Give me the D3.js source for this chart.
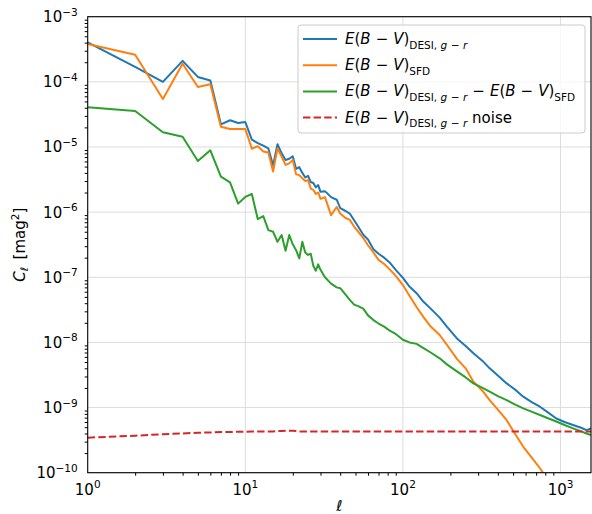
<!DOCTYPE html>
<html><head><meta charset="utf-8">
<script src="https://cdn.jsdelivr.net/npm/d3@7"></script>
<style>body{margin:0;background:#fff}svg{display:block}text{font-family:"DejaVu Sans",sans-serif;fill:#000}</style>
</head><body>
<svg id="c" width="592" height="514"></svg>
<script>
const ell = [1,2,3,4,5,6,7,8,9,10,11,12,13,14,15,16,17,18,19,20,21,22,23,24,25,26,27,28,29,30,
  32,35,38,40,43,46,49,52,56,60,65,70,76,83,90,100,110,122,135,150,171,190,220,250,280,320,355,400,455,520,580,660,740,840,940,1060,1200,1350,1460,1560];
const desi = [4.05e-4,1.7e-4,1.0e-4,2.1e-4,1.19e-4,1.05e-4,2.23e-5,2.57e-5,2.34e-5,2.42e-5,1.3e-5,1.15e-5,1.05e-5,9.5e-6,5.2e-6,1.1e-5,8.0e-6,6.3e-6,6.6e-6,7.2e-6,4.6e-6,4.9e-6,4.0e-6,3.4e-6,3.6e-6,2.9e-6,2.8e-6,2.4e-6,2.6e-6,2.05e-6,
  2.1e-6,1.7e-6,1.55e-6,1.15e-6,1.05e-6,9.5e-7,7.5e-7,6.0e-7,4.5e-7,3.8e-7,2.7e-7,2.3e-7,2.0e-7,1.65e-7,1.3e-7,9.8e-8,7.2e-8,5.7e-8,4.2e-8,3.3e-8,2.4e-8,1.75e-8,1.15e-8,8.8e-9,6.8e-9,5.2e-9,4.0e-9,3.1e-9,2.35e-9,1.85e-9,1.47e-9,1.2e-9,1.03e-9,8.3e-10,6.8e-10,6.0e-10,5.4e-10,4.9e-10,4.5e-10,4.8e-10];
const sfd = [3.81e-4,2.61e-4,5.46e-5,1.9e-4,8.34e-5,9.17e-5,2.05e-5,1.89e-5,1.89e-5,1.89e-5,9.4e-6,1.03e-5,8.5e-6,8.2e-6,4.2e-6,9.5e-6,7.1e-6,5.3e-6,5.6e-6,6.3e-6,3.8e-6,3.7e-6,3.3e-6,3.0e-6,3.1e-6,2.3e-6,2.2e-6,1.9e-6,2.0e-6,1.6e-6,
  1.7e-6,9.0e-7,1.2e-6,9.5e-7,8.2e-7,7.6e-7,6.0e-7,5.0e-7,4.0e-7,3.1e-7,2.4e-7,1.85e-7,1.6e-7,1.3e-7,1.05e-7,7.6e-8,5.2e-8,3.5e-8,2.45e-8,1.75e-8,1.3e-8,9.2e-9,5.6e-9,4.0e-9,2.5e-9,1.8e-9,1.3e-9,9.3e-10,6.4e-10,3.8e-10,2.5e-10,1.67e-10,1.17e-10,7.5e-11,null,null,null,null,null,null];
const diff = [4.06e-5,3.56e-5,1.68e-5,1.44e-5,6.09e-6,8.9e-6,3.5e-6,2.87e-6,1.35e-6,1.71e-6,1.9e-6,7.8e-7,8.7e-7,5.3e-7,5.0e-7,3.5e-7,4.45e-7,2.56e-7,4.45e-7,3.2e-7,2.6e-7,1.95e-7,3.5e-7,2.4e-7,2.2e-7,2.3e-7,1.5e-7,1.26e-7,1.58e-7,1.3e-7,
  1.0e-7,8.0e-8,7.0e-8,6.8e-8,5.5e-8,4.5e-8,3.8e-8,3.6e-8,3.3e-8,2.6e-8,2.2e-8,1.95e-8,1.75e-8,1.5e-8,1.35e-8,1.1e-8,1.0e-8,9.5e-9,8.2e-9,7.0e-9,5.7e-9,4.6e-9,3.6e-9,2.9e-9,2.35e-9,2.0e-9,1.75e-9,1.5e-9,1.3e-9,1.1e-9,9.7e-10,8.6e-10,7.7e-10,6.8e-10,6.1e-10,5.4e-10,4.8e-10,4.3e-10,4.0e-10,3.8e-10];
const noise = [3.45e-10,3.7e-10,3.9e-10,4.0e-10,4.1e-10,4.15e-10,4.2e-10,4.2e-10,4.25e-10,4.25e-10,4.3e-10,4.3e-10,4.3e-10,4.3e-10,4.3e-10,4.35e-10,4.35e-10,4.4e-10,4.4e-10,4.4e-10,4.35e-10,4.3e-10,4.3e-10,4.3e-10,4.3e-10,4.3e-10,4.3e-10,4.3e-10,4.3e-10,4.3e-10,
  4.3e-10,4.3e-10,4.3e-10,4.3e-10,4.3e-10,4.3e-10,4.3e-10,4.3e-10,4.3e-10,4.3e-10,4.3e-10,4.3e-10,4.3e-10,4.3e-10,4.3e-10,4.3e-10,4.3e-10,4.3e-10,4.3e-10,4.3e-10,4.3e-10,4.3e-10,4.3e-10,4.3e-10,4.3e-10,4.3e-10,4.3e-10,4.3e-10,4.3e-10,4.3e-10,4.3e-10,4.3e-10,4.3e-10,4.3e-10,4.3e-10,4.3e-10,4.3e-10,4.3e-10,4.3e-10,4.3e-10];
const xTickExp = [0,1,2,3];
const yTickExp = [-10,-9,-8,-7,-6,-5,-4,-3];

const L=87.7, R=591, T=16.7, B=472.7;
const FS=15, FSS=10.5;
const svg = d3.select("#c");
const x = d3.scaleLog().domain([1,1560]).range([L,R]);
const y = d3.scaleLog().domain([1e-10,1e-3]).range([B,T]);

// grid
const g = svg.append("g");
xTickExp.forEach(e=>{const v=Math.pow(10,e); if(e>0) g.append("line").attr("x1",x(v)).attr("x2",x(v)).attr("y1",T).attr("y2",B).attr("stroke","#dcdcdc").attr("stroke-width",1);});
yTickExp.forEach(e=>{const v=Math.pow(10,e); g.append("line").attr("x1",L).attr("x2",R).attr("y1",y(v)).attr("y2",y(v)).attr("stroke","#dcdcdc").attr("stroke-width",1);});

svg.append("clipPath").attr("id","clip").append("rect").attr("x",L).attr("y",T).attr("width",R-L).attr("height",B-T);
const plot = svg.append("g").attr("clip-path","url(#clip)");
const series = [
  {v:desi,c:"#1f77b4"},{v:sfd,c:"#ff7f0e"},{v:diff,c:"#2ca02c"},{v:noise,c:"#d62728",dash:"7.4,3.2"}
];
const line = d3.line().defined(d=>d[1]!=null).x(d=>x(d[0])).y(d=>y(d[1]));
series.forEach(s=>{
  plot.append("path").datum(ell.map((l,i)=>[l,s.v[i]])).attr("d",line)
    .attr("fill","none").attr("stroke",s.c).attr("stroke-width",2).attr("stroke-linejoin","round")
    .attr("stroke-dasharray",s.dash||null);
});

// axes
const xMinor = [];
for(let e=0;e<4;e++) for(let m=2;m<10;m++){const v=m*Math.pow(10,e); if(v<=1560) xMinor.push(v);}
const yMinor = [];
for(let e=-10;e<-3;e++) for(let m=2;m<10;m++) yMinor.push(m*Math.pow(10,e));
const ax = svg.append("g").attr("transform",`translate(0,${B})`);
ax.call(d3.axisBottom(x).tickValues(xTickExp.map(e=>Math.pow(10,e))).tickSize(5).tickFormat(""));
ax.call(d3.axisBottom(x).tickValues(xMinor).tickSize(3).tickFormat(""));
const ay = svg.append("g").attr("transform",`translate(${L},0)`);
ay.call(d3.axisLeft(y).tickValues(yTickExp.map(e=>Math.pow(10,e))).tickSize(5).tickFormat(""));
ay.call(d3.axisLeft(y).tickValues(yMinor).tickSize(3).tickFormat(""));
svg.selectAll(".domain").remove();
svg.selectAll(".tick line").attr("stroke","#000").attr("stroke-width",1);
svg.append("rect").attr("x",L).attr("y",T).attr("width",R-L).attr("height",B-T).attr("fill","none").attr("stroke","#000").attr("stroke-width",1.1);

// tick labels
xTickExp.forEach(e=>{
  const t=svg.append("text").attr("x",x(Math.pow(10,e))).attr("y",494.5).attr("text-anchor","middle").attr("font-size",FS);
  t.append("tspan").text("10"); t.append("tspan").attr("dy",-6.5).attr("font-size",FSS).text(String(e));
});
yTickExp.forEach(e=>{
  const t=svg.append("text").attr("x",L-10).attr("y",y(Math.pow(10,e))+5.5).attr("text-anchor","end").attr("font-size",FS);
  t.append("tspan").text("10"); t.append("tspan").attr("dy",-6.5).attr("font-size",FSS).text("\u2212"+String(-e));
});

// axis labels
svg.append("text").attr("x",(L+R)/2).attr("y",511).attr("text-anchor","middle").attr("font-size",FS).attr("font-style","italic").text("\u2113");
const yl = svg.append("text").attr("transform",`translate(25,${(T+B)/2}) rotate(-90)`).attr("text-anchor","middle").attr("font-size",FS);
yl.append("tspan").attr("font-style","italic").text("C");
yl.append("tspan").attr("font-style","italic").attr("font-size",FSS).attr("dy",3).text("\u2113");
yl.append("tspan").attr("dy",-3).text("\u2002[mag");
yl.append("tspan").attr("font-size",FSS).attr("dy",-6).text("2");
yl.append("tspan").attr("dy",6).text("]");

// legend
function mathText(parent, xx, yy, segs){
  const t = parent.append("text").attr("x",xx).attr("y",yy).attr("font-size",FS);
  let cur=0;
  segs.forEach(s=>{
    const target = s.sub?4.5:0;
    const ts=t.append("tspan").attr("dy",target-cur).text(s.t);
    cur=target;
    if(s.dx) ts.attr("dx",s.dx);
    if(s.i) ts.attr("font-style","italic");
    if(s.sub) ts.attr("font-size",FSS);
  });
  return t;
}
const EBV = [{t:"E",i:1},{t:"("},{t:"B",i:1},{t:"\u2212",dx:5},{t:"V",i:1,dx:5},{t:")"}];
const SUBD = [{t:"DESI, ",sub:1},{t:"g",i:1,sub:1},{t:"\u2212",sub:1,dx:3.5},{t:"r",i:1,sub:1,dx:3.5}];
const SUBS = [{t:"SFD",sub:1}];
const labels = [
  EBV.concat(SUBD),
  EBV.concat(SUBS),
  EBV.concat(SUBD).concat([{t:"\u2212",dx:5}]).concat([{t:"E",i:1,dx:5}]).concat(EBV.slice(1)).concat(SUBS),
  EBV.concat(SUBD).concat([{t:" noise"}])
];
const lg = svg.append("g");
lg.append("rect").attr("x",298).attr("y",25).attr("width",287).attr("height",108).attr("rx",3)
  .attr("fill","#fff").attr("fill-opacity",0.8).attr("stroke","#cccccc").attr("stroke-width",1);
labels.forEach((lab,i)=>{
  const yy = 39 + i*26.2;
  lg.append("line").attr("x1",303).attr("x2",337).attr("y1",yy).attr("y2",yy)
    .attr("stroke",series[i].c).attr("stroke-width",2).attr("stroke-dasharray",series[i].dash||null);
  mathText(lg, 345, yy+5, lab);
});
</script>
</body></html>
